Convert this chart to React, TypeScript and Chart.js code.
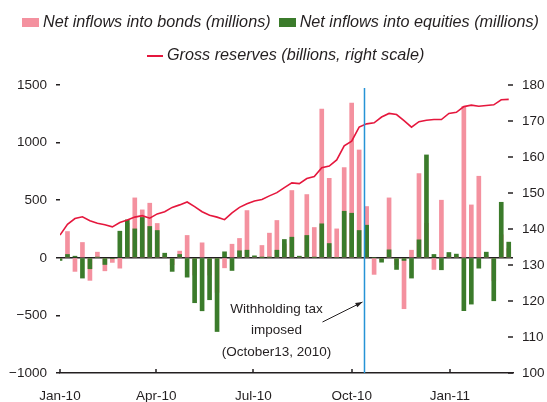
import React, { useEffect, useRef } from 'react';
import { Chart, registerables } from 'chart.js';

Chart.register(...registerables);

// ---------- data ----------
const weeks = [
  '2010-01-01', '2010-01-08', '2010-01-15', '2010-01-22', '2010-01-29',
  '2010-02-05', '2010-02-12', '2010-02-19', '2010-02-26',
  '2010-03-05', '2010-03-12', '2010-03-19', '2010-03-26',
  '2010-04-02', '2010-04-09', '2010-04-16', '2010-04-23', '2010-04-30',
  '2010-05-07', '2010-05-14', '2010-05-21', '2010-05-28',
  '2010-06-04', '2010-06-11', '2010-06-18', '2010-06-25',
  '2010-07-02', '2010-07-09', '2010-07-16', '2010-07-23', '2010-07-30',
  '2010-08-06', '2010-08-13', '2010-08-20', '2010-08-27',
  '2010-09-03', '2010-09-10', '2010-09-17', '2010-09-24',
  '2010-10-01', '2010-10-08', '2010-10-15', '2010-10-22', '2010-10-29',
  '2010-11-05', '2010-11-12', '2010-11-19', '2010-11-26',
  '2010-12-03', '2010-12-10', '2010-12-17', '2010-12-24', '2010-12-31',
  '2011-01-07', '2011-01-14', '2011-01-21', '2011-01-28',
  '2011-02-04', '2011-02-11', '2011-02-18', '2011-02-25',
];

const bondFlows = [
  -10, 228, -118, 133, -196, 49, -113, -40, -90,
  300, 520, 416, 474,
  298, 20, -60, 58, 194,
  -150, 130, -150, -300,
  -87, 118, 168, 410,
  10, 107, 214, 324, 120,
  584, 10, 549, 263,
  1291, 690, 251, 783,
  1343, 936, 445, -144, -20,
  520, -60, -442, 66,
  731, 300, -101, 500, 20,
  15, 1315, 459, 708,
  20, -200, 200, 80,
];

const equityFlows = [
  -23, 29, 14, -176, -95, 5, -58, -5, 231,
  329, 251, 350, 272,
  237, 40, -118, 29, -168,
  -390, -460, -364, -640,
  52, -110, 61, 66,
  17, 3, 5, 66, 159,
  179, 14, 194, 3,
  295, 124, 0, 404,
  387, 237, 283, 0, -38,
  69, -101, -23, -176,
  156, 893, 29, -104, 46,
  32, -459, -402, -90,
  49, -373, 482, 136,
];

const grossReserves = [
  138.3, 141.3, 142.9, 143.4, 142.3, 141.6, 141.2, 140.6, 141.8,
  142.5, 143.3, 143.7, 143.0,
  144.2, 144.8, 146.0, 146.7, 147.5,
  146.2, 144.8, 143.8, 143.3,
  142.6, 144.5, 146.0, 147.0,
  147.8, 148.2, 149.2, 150.1, 151.5,
  152.8, 152.6, 154.0, 154.6,
  157.0, 157.5, 159.2, 163.1,
  164.4, 168.3, 169.2, 169.5, 171.1,
  172.1, 171.8, 170.1, 168.3,
  169.8, 170.2, 170.4, 170.4, 172.1,
  172.4, 174.0, 174.4, 174.1,
  174.3, 174.5, 175.9, 176.0,
];

const xTickDates = ['2010-01-01', '2010-04-01', '2010-07-01', '2010-10-01', '2011-01-01'];
const xTickLabels = ['Jan-10', 'Apr-10', 'Jul-10', 'Oct-10', 'Jan-11'];
const axisEndDate = '2011-03-01';
const leftTicks = [-1000, -500, 0, 500, 1000, 1500];
const rightTicks = [100, 110, 120, 130, 140, 150, 160, 170, 180];

const eventDate = '2010-10-13';
const eventNote = ['Withholding tax', 'imposed', '(October13, 2010)'];

const bondLabel = 'Net inflows into bonds (millions)';
const equityLabel = 'Net inflows into equities (millions)';
const reservesLabel = 'Gross reserves (billions, right scale)';

// ---------- styles ----------
const PINK = '#f4919f';
const GREEN = '#3b7b2b';
const RED = '#e5173d';
const BLUE = '#2693d6';
const INK = '#231f20';
const SANS = '"Liberation Sans", Arial, sans-serif';
const AXIS_FONT = { family: SANS, size: 13.5 };

const dayOf = (s: string) => (Date.parse(s) - Date.parse(weeks[0])) / 86400000;
const fmtNum = (v: number) => (v < 0 ? '\u2212' + Math.abs(v) : String(v));

const overlayPlugin = {
  id: 'overlay',
  afterDatasetsDraw(chart: any) {
    const { ctx, chartArea, scales } = chart;
    const xs = scales.x;
    const y2 = scales.y2;
    ctx.save();
    // x tick marks (inward)
    ctx.strokeStyle = INK;
    ctx.lineWidth = 1.5;
    xTickDates.forEach((d) => {
      const px = Math.round(xs.getPixelForValue(dayOf(d)));
      ctx.beginPath();
      ctx.moveTo(px, chartArea.bottom);
      ctx.lineTo(px, chartArea.bottom - 4);
      ctx.stroke();
    });
    // right tick marks (inward)
    rightTicks.forEach((v) => {
      const py = y2.getPixelForValue(v);
      ctx.beginPath();
      ctx.moveTo(chartArea.right - 5, py);
      ctx.lineTo(chartArea.right, py);
      ctx.stroke();
    });
    // event line
    const ex = xs.getPixelForValue(dayOf(eventDate));
    ctx.strokeStyle = BLUE;
    ctx.lineWidth = 1.5;
    ctx.beginPath();
    ctx.moveTo(ex, chartArea.top + 3);
    ctx.lineTo(ex, chartArea.bottom);
    ctx.stroke();
    // annotation text
    ctx.fillStyle = INK;
    ctx.font = `13.5px ${SANS}`;
    ctx.textAlign = 'center';
    ctx.textBaseline = 'middle';
    const cx = ex - 88;
    const lineYs = [chartArea.bottom - 64, chartArea.bottom - 43, chartArea.bottom - 21];
    eventNote.forEach((t, i) => ctx.fillText(t, cx, lineYs[i]));
    // arrow
    const x0 = ex - 42, y0 = chartArea.bottom - 51;
    const x1 = ex - 2, y1 = chartArea.bottom - 71;
    ctx.strokeStyle = INK;
    ctx.lineWidth = 1;
    ctx.beginPath();
    ctx.moveTo(x0, y0);
    ctx.lineTo(x1, y1);
    ctx.stroke();
    const ang = Math.atan2(y1 - y0, x1 - x0);
    const L = 7, W = 2.5;
    ctx.beginPath();
    ctx.moveTo(x1, y1);
    ctx.lineTo(x1 - L * Math.cos(ang) + W * Math.sin(ang), y1 - L * Math.sin(ang) - W * Math.cos(ang));
    ctx.lineTo(x1 - L * Math.cos(ang) - W * Math.sin(ang), y1 - L * Math.sin(ang) + W * Math.cos(ang));
    ctx.closePath();
    ctx.fill();
    ctx.restore();
  },
};

export default function App() {
  const canvasRef = useRef<HTMLCanvasElement | null>(null);

  useEffect(() => {
    if (!canvasRef.current) return;
    const chart = new Chart(canvasRef.current, {
      type: 'bar',
      data: {
        datasets: [
          {
            type: 'bar',
            label: bondLabel,
            data: weeks.map((w, i) => ({ x: dayOf(w), y: bondFlows[i] })),
            backgroundColor: PINK,
            barThickness: 4,
            grouped: false,
            order: 2,
            yAxisID: 'y',
          },
          {
            type: 'bar',
            label: equityLabel,
            data: weeks.map((w, i) => ({ x: dayOf(w), y: equityFlows[i] })),
            backgroundColor: GREEN,
            barThickness: 4,
            grouped: false,
            order: 1,
            yAxisID: 'y',
          },
          {
            type: 'line',
            label: reservesLabel,
            data: weeks.map((w, i) => ({ x: dayOf(w), y: grossReserves[i] })),
            borderColor: RED,
            borderWidth: 1.6,
            pointRadius: 0,
            tension: 0,
            order: 0,
            yAxisID: 'y2',
          },
        ],
      } as any,
      options: {
        animation: false,
        responsive: true,
        maintainAspectRatio: false,
        layout: { padding: { top: 85, left: 0, right: 0, bottom: 0 } },
        plugins: { legend: { display: false }, tooltip: { enabled: false } },
        scales: {
          x: {
            type: 'linear',
            min: 0,
            max: dayOf(axisEndDate),
            offset: false,
            afterBuildTicks: (s: any) => {
              s.ticks = xTickDates.map((d) => ({ value: dayOf(d) }));
            },
            ticks: {
              callback: (_v: any, i: number) => xTickLabels[i],
              font: AXIS_FONT,
              color: INK,
              padding: 15,
              maxRotation: 0,
              autoSkip: false,
            },
            grid: { display: false, offset: false, drawTicks: false, tickLength: 0 },
            border: { display: true, color: INK, width: 1.5 },
            afterFit: (s: any) => {
              s.height = 29;
            },
          },
          y: {
            position: 'left',
            min: -1000,
            max: 1500,
            afterBuildTicks: (s: any) => {
              s.ticks = leftTicks.map((v) => ({ value: v }));
            },
            ticks: {
              callback: (v: any) => fmtNum(Number(v)),
              font: AXIS_FONT,
              color: INK,
              padding: 9,
            },
            grid: {
              drawOnChartArea: true,
              color: (c: any) => (c.tick && c.tick.value === 0 ? INK : 'rgba(0,0,0,0)'),
              lineWidth: 1.5,
              tickColor: INK,
              tickLength: 4,
              tickWidth: 1.5,
            },
            border: { display: false },
            afterFit: (s: any) => {
              s.width = 60;
            },
          },
          y2: {
            position: 'right',
            min: 100,
            max: 180,
            afterBuildTicks: (s: any) => {
              s.ticks = rightTicks.map((v) => ({ value: v }));
            },
            ticks: {
              font: AXIS_FONT,
              color: INK,
              padding: 9,
            },
            grid: { display: true, drawOnChartArea: false, drawTicks: false },
            border: { display: false },
            afterFit: (s: any) => {
              s.width = 34;
            },
          },
        },
      } as any,
      plugins: [overlayPlugin],
    });
    return () => chart.destroy();
  }, []);

  const legendFont = `italic 16.2px ${SANS}`;
  const row: React.CSSProperties = {
    position: 'absolute',
    height: 19,
    display: 'flex',
    alignItems: 'flex-start',
    whiteSpace: 'nowrap',
    font: legendFont,
    lineHeight: '19px',
    color: INK,
    pointerEvents: 'none',
  };

  return (
    <div style={{ position: 'absolute', left: 0, top: 0, width: 547, height: 402, background: '#fff' }}>
      <canvas ref={canvasRef} />
      <div style={{ ...row, left: 22, top: 12 }}>
        <span style={{ width: 17, height: 9.4, background: PINK, marginTop: 6, marginRight: 4 }} />
        <span>{bondLabel}</span>
        <span style={{ width: 17, height: 9.4, background: GREEN, marginTop: 6, marginLeft: 8, marginRight: 4 }} />
        <span>{equityLabel}</span>
      </div>
      <div style={{ ...row, left: 147, top: 45 }}>
        <span style={{ width: 16, height: 2, background: RED, marginTop: 9.5, marginRight: 4 }} />
        <span>{reservesLabel}</span>
      </div>
    </div>
  );
}
